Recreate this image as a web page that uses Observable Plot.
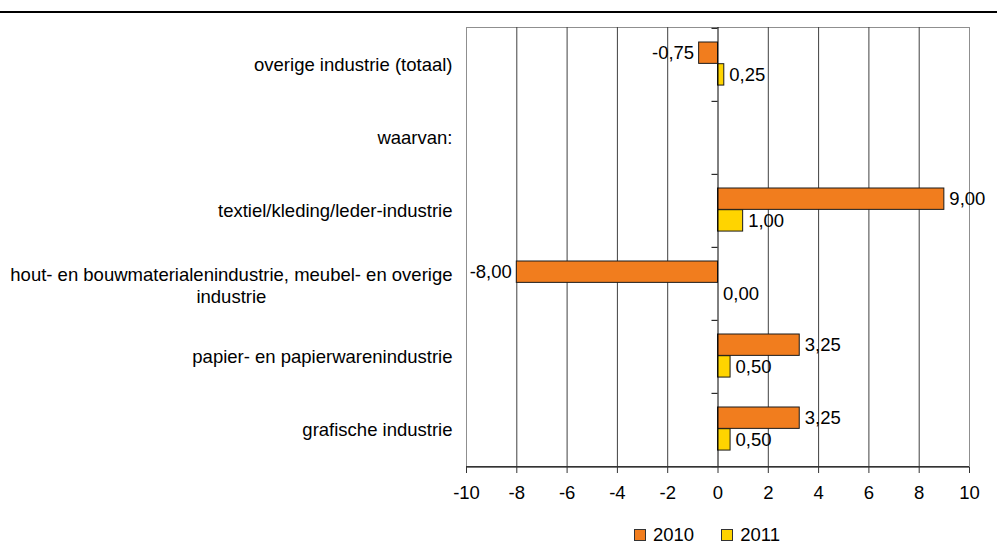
<!DOCTYPE html>
<html>
<head>
<meta charset="utf-8">
<script src="https://cdn.jsdelivr.net/npm/d3@7"></script>
<script src="https://cdn.jsdelivr.net/npm/@observablehq/plot@0.6"></script>
<style>
  html, body { margin: 0; padding: 0; background: #fff; }
  body { width: 997px; height: 544px; position: relative; overflow: hidden;
         font-family: "Liberation Sans", Arial, sans-serif; }
  #topline { position: absolute; left: 0; top: 11px; width: 997px; height: 1.5px; background: #000; }
  #chart { position: absolute; left: 0; top: 0; }
  #legend { position: absolute; left: 634px; top: 527px; height: 16px; display: flex; align-items: center;
            font-size: 18.5px; line-height: 16px; color: #000; }
  .item { display: flex; align-items: center; margin-right: 27px; }
  .sw { width: 10px; height: 10px; border: 1px solid #333; margin-right: 7px; }
</style>
</head>
<body>
<div id="chart"></div>
<div id="topline"></div>
<div id="legend"></div>
<script>
// ---- data ----
const categories = [
  "overige industrie (totaal)",
  "waarvan:",
  "textiel/kleding/leder-industrie",
  "hout- en bouwmaterialenindustrie, meubel- en overige\nindustrie",
  "papier- en papierwarenindustrie",
  "grafische industrie"
];
const series = ["2010", "2011"];
const values2010 = [-0.75, null, 9.00, -8.00, 3.25, 3.25];
const values2011 = [0.25, null, 1.00, 0.00, 0.50, 0.50];
const xTicks = [-10, -8, -6, -4, -2, 0, 2, 4, 6, 8, 10];

// ---- build ----
const colors = {"2010": "#F17D1E", "2011": "#FFD400"};
const rows = [];
categories.forEach((c, i) => {
  if (values2010[i] != null) rows.push({category: c, year: "2010", value: values2010[i]});
  if (values2011[i] != null) rows.push({category: c, year: "2011", value: values2011[i]});
});
const fmt = v => v.toFixed(2).replace(".", ",");

const W = 997, H = 518, mt = 27, mb = 51, ml = 466, mr = 28;
const bw = (H - mt - mb) / categories.length;
const FS = 18.5;
const font = "'Liberation Sans', Arial, sans-serif";

// layout of the two bars inside a band (pixels)
const barH = 21.7, topGap = 14.0;
const inset = {
  "2010": {top: topGap, bottom: bw - topGap - barH},
  "2011": {top: topGap + barH, bottom: bw - topGap - 2 * barH}
};
const labelDy = {
  "2010": topGap + barH / 2 - bw / 2,
  "2011": topGap + barH * 1.5 - bw / 2
};

// measure first line of wrapped label (to center second line under it)
const ctx = document.createElement("canvas").getContext("2d");
ctx.font = `${FS}px ${font}`;
const wrapped = categories.filter(c => c.includes("\n"));
const plain = categories.filter(c => !c.includes("\n"));
const firstLineW = wrapped.length ? ctx.measureText(wrapped[0].split("\n")[0]).width : 0;

const marks = [
  Plot.frame({stroke: "#8f8f8f"}),
  Plot.ruleX(xTicks.filter(v => v !== 0 && Math.abs(v) !== 10), {stroke: "#404040", strokeWidth: 1}),
];
for (const yr of series) {
  marks.push(Plot.barX(rows.filter(d => d.year === yr), {
    y: "category", x1: 0, x2: "value",
    fill: colors[yr], stroke: "#1a1a1a", strokeWidth: 1,
    insetTop: inset[yr].top, insetBottom: inset[yr].bottom
  }));
}
marks.push(
  Plot.ruleX([0], {stroke: "#000", strokeWidth: 1}),
  // category ticks on the zero line at band boundaries
  Plot.ruleY(categories, {y: d => d, x1: 0, x2: 0, insetLeft: -6, dy: -bw / 2, stroke: "#000"}),
  Plot.ruleY(categories.slice(-1), {y: d => d, x1: 0, x2: 0, insetLeft: -6, dy: bw / 2, stroke: "#000"}),
  // bottom axis line
  Plot.ruleY(categories.slice(-1), {y: d => d, dy: bw / 2, stroke: "#333", strokeWidth: 1.2}),
  Plot.axisX(xTicks, {
    anchor: "bottom", tickSize: 6, tickPadding: 12, tickFormat: d => String(d),
    fontSize: FS, stroke: "#333", fill: "#000", label: null
  })
);
for (const yr of series) {
  const rs = rows.filter(d => d.year === yr);
  marks.push(
    Plot.text(rs.filter(d => d.value >= 0), {
      y: "category", x: "value", text: d => fmt(d.value),
      textAnchor: "start", dx: 5, dy: labelDy[yr], fontSize: FS, fill: "#000"
    }),
    Plot.text(rs.filter(d => d.value < 0), {
      y: "category", x: "value", text: d => fmt(d.value),
      textAnchor: "end", dx: -5, dy: labelDy[yr], fontSize: FS, fill: "#000"
    })
  );
}
// category labels
marks.push(
  Plot.text(plain, {y: d => d, text: d => d, frameAnchor: "left", textAnchor: "end",
    dx: -14, fontSize: FS, fill: "#000"}),
  Plot.text(wrapped, {y: d => d, text: d => d, frameAnchor: "left", textAnchor: "middle",
    dx: -14 - firstLineW / 2, dy: 1, lineHeight: 1.2, fontSize: FS, fill: "#000"})
);

const chart = Plot.plot({
  width: W, height: H,
  marginTop: mt, marginBottom: mb, marginLeft: ml, marginRight: mr,
  style: {fontFamily: font, fontSize: FS + "px", color: "#000", background: "transparent"},
  x: {domain: [-10, 10], axis: null},
  y: {domain: categories, padding: 0, axis: null},
  marks
});
document.getElementById("chart").appendChild(chart);

// legend
const lg = document.getElementById("legend");
for (const yr of series) {
  const it = document.createElement("div");
  it.className = "item";
  const sw = document.createElement("div");
  sw.className = "sw";
  sw.style.background = colors[yr];
  const t = document.createElement("span");
  t.textContent = yr;
  it.appendChild(sw); it.appendChild(t);
  lg.appendChild(it);
}
</script>
</body>
</html>
